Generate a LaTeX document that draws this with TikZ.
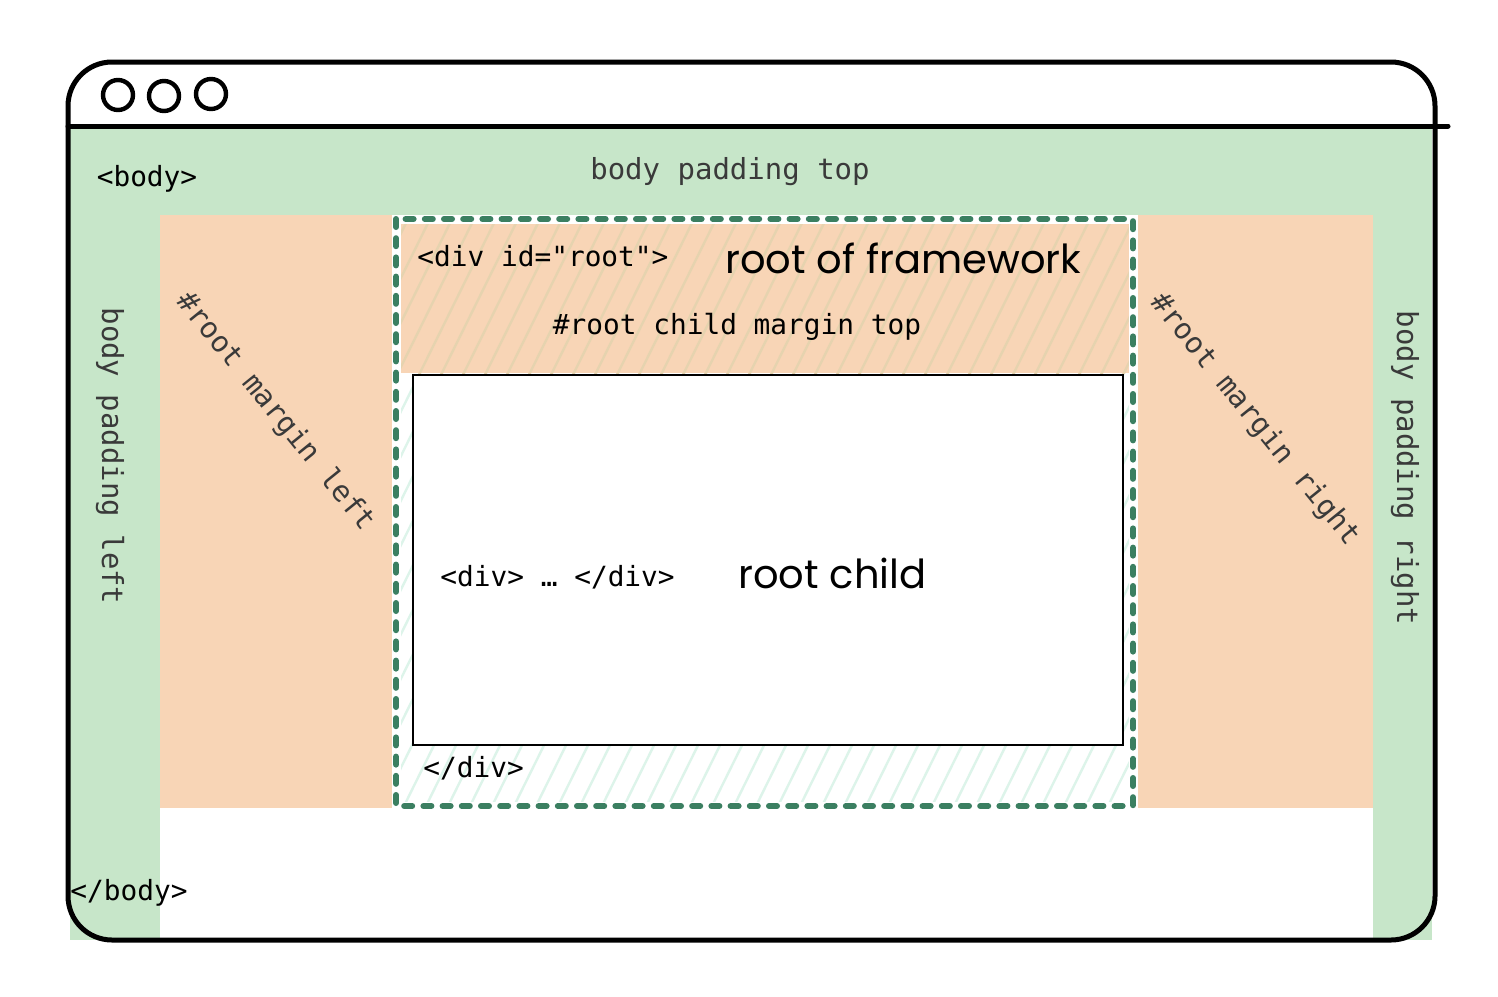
\documentclass[tikz,border=0pt]{standalone}
\usepackage{fontspec}
\setmonofont{DejaVu Sans Mono}
\newfontfamily\handfont{Poppins}
\definecolor{bodygreen}{HTML}{C7E6C9}
\definecolor{marginorange}{HTML}{F8D5B6}
\definecolor{rootgreen}{HTML}{3B7F61}
\definecolor{hatchmint}{HTML}{DDF4EA}
\definecolor{hatchtan}{HTML}{E6D3AF}
\definecolor{labelgray}{HTML}{3A3A3A}
\tikzset{
	tagtext/.style={font=\ttfamily\fontsize{13.9}{16}\selectfont, inner sep=0pt},
	labeltext/.style={inner sep=0pt, text=labelgray, font=\ttfamily\fontsize{14.5}{16}\selectfont},
	handtext/.style={inner sep=0pt, font=\handfont\fontsize{20}{22}\selectfont},
	rootedge/.style={rootgreen, line width=3pt, line cap=round, dash pattern=on 4pt off 5.6pt},
}

\begin{document}
\begin{tikzpicture}[x=0.5pt, y=-0.5pt]
	\useasboundingbox (0,0) rectangle (1498,996);

	% body padding and #root margins
	\fill[bodygreen] (70,128) rectangle (1432,940);
	\fill[white] (160,215) rectangle (1373,940);
	\fill[marginorange] (160,215) rectangle (1373,808);

	% #root
	\fill[white] (396,219) rectangle (1133,806);
	\fill[marginorange] (398,222) rectangle (1131,373);
	\begin{scope}
		\clip (398,373) rectangle (1131,804);
		\foreach \i in {-300,-278,...,760}
			\draw[hatchmint, line width=1.2pt] (396+\i,806) -- (686+\i,219);
	\end{scope}
	\begin{scope}
		\clip (398,222) rectangle (1131,373);
		\foreach \i in {-300,-278,...,760}
			\draw[hatchtan, line width=1.2pt] (396+\i,806) -- (686+\i,219);
	\end{scope}
	\draw[white, line width=4.5pt] (396,219) rectangle (1133,806);
	\draw[rootedge] (396,219) rectangle (1133,806);

	% root child
	\draw[line width=1pt, fill=white] (413,375) rectangle (1123,745);

	% browser window
	\draw[line width=2.5pt, rounded corners=22pt] (68,62) rectangle (1435,940);
	\draw[line width=2.5pt, line cap=round] (68,126) -- (1448,126);
	\draw[line width=2.2pt] (118,95) circle [radius=15];
	\draw[line width=2.2pt] (164,96) circle [radius=15];
	\draw[line width=2.2pt] (211,94) circle [radius=15];

	\node[tagtext] (bodyopen) at (147,179) {<body>};
	\node[tagtext, anchor=west] (bodyclose) at (70,893) {</body>};
	\node[labeltext] (padtop) at (730,172) {body padding top};
	\node[labeltext, rotate=-90] (padleft) at (110,456) {body padding left};
	\node[labeltext, rotate=-90] (padright) at (1405,468) {body padding right};
	\node[labeltext, rotate=-51] (marginleft) at (275,412) {\#root margin left};
	\node[labeltext, rotate=-51] (marginright) at (1255,420) {\#root margin right};

	\node[tagtext, anchor=west] (rootopen) at (417,256) {<div id="root">};
	\node[handtext, anchor=west] (rootnote) at (725,258) {root of framework};
	\node[tagtext] (childmargin) at (737,327) {\#root child margin top};
	\node[tagtext, anchor=west] (childtag) at (440,577) {<div> … </div>};
	\node[handtext, anchor=west] (childnote) at (738,573) {root child};
	\node[tagtext, anchor=west] (rootclose) at (423,768) {</div>};

\end{tikzpicture}
\end{document}
